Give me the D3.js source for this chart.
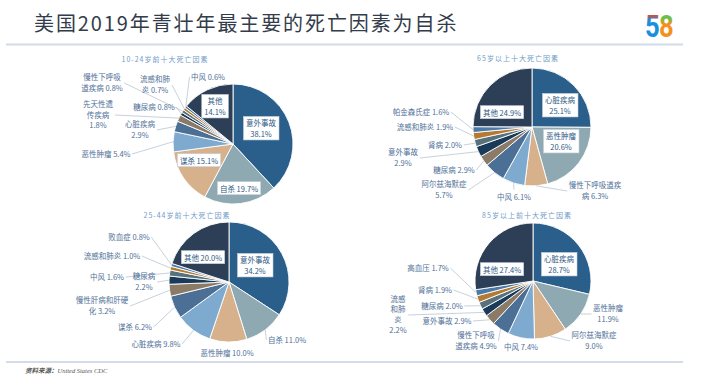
<!DOCTYPE html>
<html>
<meta charset="utf-8">
<script src="https://d3js.org/d3.v7.min.js"></script>
<style>body{margin:0;background:#fff}</style>
<div id="chart"></div>
<script>

var W = 709, H = 385;

var titleText = "美国2019年青壮年最主要的死亡因素为自杀";
var sourceLabel = "资料来源：";
var sourceName = "United States CDC";

// 10-24岁
var cats1024 = ["意外事故","自杀","谋杀","恶性肿瘤","心脏疾病","先天性遗传疾病","糖尿病","慢性下呼吸道疾病","流感和肺炎","中风","其他"];
var vals1024 = [38.1,19.7,15.1,5.4,2.9,1.8,0.8,0.8,0.7,0.6,14.1];

// 65岁以上
var cats65 = ["心脏疾病","恶性肿瘤","慢性下呼吸道疾病","中风","阿尔兹海默症","糖尿病","意外事故","肾病","流感和肺炎","帕金森氏症","其他"];
var vals65 = [25.1,20.6,6.3,6.1,5.7,2.9,2.9,2.0,1.9,1.6,24.9];

// 25-44岁
var cats2544 = ["意外事故","自杀","恶性肿瘤","心脏疾病","谋杀","慢性肝病和肝硬化","糖尿病","中风","流感和肺炎","败血症","其他"];
var vals2544 = [34.2,11.0,10.0,9.8,6.2,3.2,2.2,1.6,1.0,0.8,20.0];

// 85岁以上
var cats85 = ["心脏疾病","恶性肿瘤","阿尔兹海默症","中风","慢性下呼吸道疾病","意外事故","流感和肺炎","糖尿病","肾病","高血压","其他"];
var vals85 = [28.7,11.9,9.0,7.4,4.9,2.9,2.2,2.0,1.9,1.7,27.4];

var sliceColors = ["#295f8a","#8fa9b3","#d6b18c","#7eaad0","#4c6f95","#8b7a66",
                   "#193a58","#57727b","#b47a33","#4b7aa8","#2c3f56"];

// label layout: [dx, dy, line breaks, inside box]
var panels = [
  {title: "10-24岁前十大死亡因素", cats: cats1024, vals: vals1024, cx: 233, cy: 144, r: 60, tx: 165, ty: 59,
   labels: [[28,-15,[4],1],[6,45,[],1],[-34,17,[],1],[-127,10,[],0],[-93,-14,[4],0],[-135,-29,[4,7],0],
            [-79,-37,[],0],[-131,-61,[5],0],[-78,-59,[4],0],[-25,-67,[],0],[-18,-37,[2],1]]},
  {title: "65岁以上十大死亡因素", cats: cats65, vals: vals65, cx: 532, cy: 127, r: 59, tx: 518, ty: 58,
   labels: [[28,-21,[4],1],[29,15,[4],1],[63,64,[7],0],[-18,70,[],0],[-88,63,[6],0],[-78,43,[],0],
            [-129,31,[4],0],[-87,18,[],0],[-107,0,[],0],[-111,-15,[],0],[-30,-14,[],1]]},
  {title: "25-44岁前十大死亡因素", cats: cats2544, vals: vals2544, cx: 229, cy: 282, r: 60, tx: 187, ty: 215,
   labels: [[26,-16,[4],1],[58,58,[],0],[-2,71,[],0],[-73,62,[],0],[-94,45,[],0],[-127,24,[7],0],
            [-85,0,[3],0],[-122,-5,[],0],[-117,-26,[],0],[-100,-45,[],0],[-26,-24,[],1]]},
  {title: "85岁以上前十大死亡因素", cats: cats85, vals: vals85, cx: 533, cy: 281, r: 58, tx: 527, ty: 215,
   labels: [[26,-16,[4],1],[75,33,[4],0],[61,60,[6],0],[-12,66,[],0],[-57,60,[5],0],[-86,40,[],0],
            [-135,34,[2,4,5],0],[-91,25,[],0],[-98,9,[],0],[-105,-13,[],0],[-31,-11,[],1]]}
];

var font = "'Noto Sans CJK SC', 'Noto Sans', sans-serif";

var svg = d3.select("#chart").append("svg")
  .attr("width", W).attr("height", H)
  .style("display", "block");

// logo gradients
var defs = svg.append("defs");
function grad(id, c1, c2, stop) {
  var lg = defs.append("linearGradient").attr("id", id)
    .attr("x1", 0).attr("y1", 0).attr("x2", 0).attr("y2", 1);
  lg.append("stop").attr("offset", 0).attr("stop-color", c1);
  lg.append("stop").attr("offset", stop).attr("stop-color", c1);
  lg.append("stop").attr("offset", stop + 0.15).attr("stop-color", c2);
  lg.append("stop").attr("offset", 1).attr("stop-color", c2);
}
grad("g5", "#e8452f", "#1b8ee0", 0.2);
grad("g8", "#6cbf45", "#f4901e", 0.3);

svg.append("text")
  .attr("x", 34).attr("y", 31)
  .attr("font-family", font).attr("font-size", 20)
  .attr("letter-spacing", 1.9)
  .attr("fill", "#333c4b")
  .text(titleText);

[["5", 645, "url(#g5)"], ["8", 659, "url(#g8)"]].forEach(function(d) {
  svg.append("text")
    .attr("transform", "translate(" + d[1] + ",37) scale(0.8,1)")
    .attr("font-family", "Roboto, sans-serif").attr("font-weight", 700)
    .attr("font-size", 32)
    .attr("fill", d[2])
    .text(d[0]);
});

svg.append("line").attr("x1", 6).attr("x2", 683).attr("y1", 44.5).attr("y2", 44.5)
  .attr("stroke", "#d3dce7").attr("stroke-width", 2);
svg.append("line").attr("x1", 6).attr("x2", 683).attr("y1", 362).attr("y2", 362)
  .attr("stroke", "#d3dce7").attr("stroke-width", 2);

var src = svg.append("text")
  .attr("x", 25).attr("y", 373)
  .attr("font-size", 6.5).attr("font-style", "italic").attr("fill", "#555");
src.append("tspan").attr("font-family", font).attr("font-weight", 700).text(sourceLabel);
src.append("tspan").attr("font-family", "'Liberation Serif', serif").text(sourceName);

function splitAt(s, breaks) {
  var out = [], prev = 0;
  breaks.forEach(function(b) { out.push(s.slice(prev, b).trim()); prev = b; });
  out.push(s.slice(prev).trim());
  return out;
}

var lh = 10.5;

panels.forEach(function(p) {
  svg.append("text")
    .attr("x", p.tx).attr("y", p.ty + 2.5)
    .attr("text-anchor", "middle")
    .attr("font-family", font).attr("font-size", 7)
    .attr("letter-spacing", 1)
    .attr("fill", "#6f9cc8")
    .text(p.title);

  var g = svg.append("g").attr("transform", "translate(" + p.cx + "," + p.cy + ")");
  var data = p.cats.map(function(c, i) { return {c: c, v: p.vals[i], i: i}; });
  var pie = d3.pie().sort(null).value(function(d) { return d.v; });
  var arc = d3.arc().innerRadius(0).outerRadius(p.r);
  var arcs = pie(data);

  g.selectAll("path.slice")
    .data(arcs)
    .join("path")
      .attr("class", "slice")
      .attr("d", arc)
      .attr("fill", function(d) { return sliceColors[d.data.i]; })
      .attr("stroke", "#fff")
      .attr("stroke-width", 0.9);

  var lineG = g.append("g");
  var labG = g.append("g");

  arcs.forEach(function(a, i) {
    var L = p.labels[i];
    var full = a.data.c + " " + a.data.v.toFixed(1) + "%";
    var lines = splitAt(full, L[2]);
    var n = lines.length;
    var lg = labG.append("g");
    var t = lg.append("text")
      .attr("text-anchor", "middle")
      .attr("font-family", font).attr("font-size", 7.5)
      .attr("fill", L[3] ? "#2e5a84" : "#4f7098");
    lines.forEach(function(s, k) {
      t.append("tspan")
        .attr("x", L[0])
        .attr("y", L[1] + (k - (n - 1) / 2) * lh + 2.7)
        .text(s);
    });
    var bb = t.node().getBBox();
    if (L[3]) {
      lg.insert("rect", "text")
        .attr("x", bb.x - 2.5).attr("y", bb.y - 1)
        .attr("width", bb.width + 5).attr("height", bb.height + 2)
        .attr("fill", "#fff").attr("stroke", "#c4ced9").attr("stroke-width", 0.6);
    } else {
      var mid = (a.startAngle + a.endAngle) / 2;
      var tx = Math.sin(mid) * p.r, ty = -Math.cos(mid) * p.r;
      var x0 = bb.x, x1 = bb.x + bb.width, y0 = bb.y, y1 = bb.y + bb.height;
      var sx, sy;
      if (tx > x1) { sx = x1 + 1.5; sy = L[1]; }
      else if (tx < x0) { sx = x0 - 1.5; sy = L[1]; }
      else if (ty > y1) { sx = L[0]; sy = y1 + 1; }
      else { sx = L[0]; sy = y0 - 1; }
      if (Math.hypot(tx - sx, ty - sy) > 6) {
        lineG.append("line")
          .attr("x1", sx).attr("y1", sy).attr("x2", tx).attr("y2", ty)
          .attr("stroke", "#b9c5d2").attr("stroke-width", 0.8);
      }
    }
  });
});

</script>
</html>
